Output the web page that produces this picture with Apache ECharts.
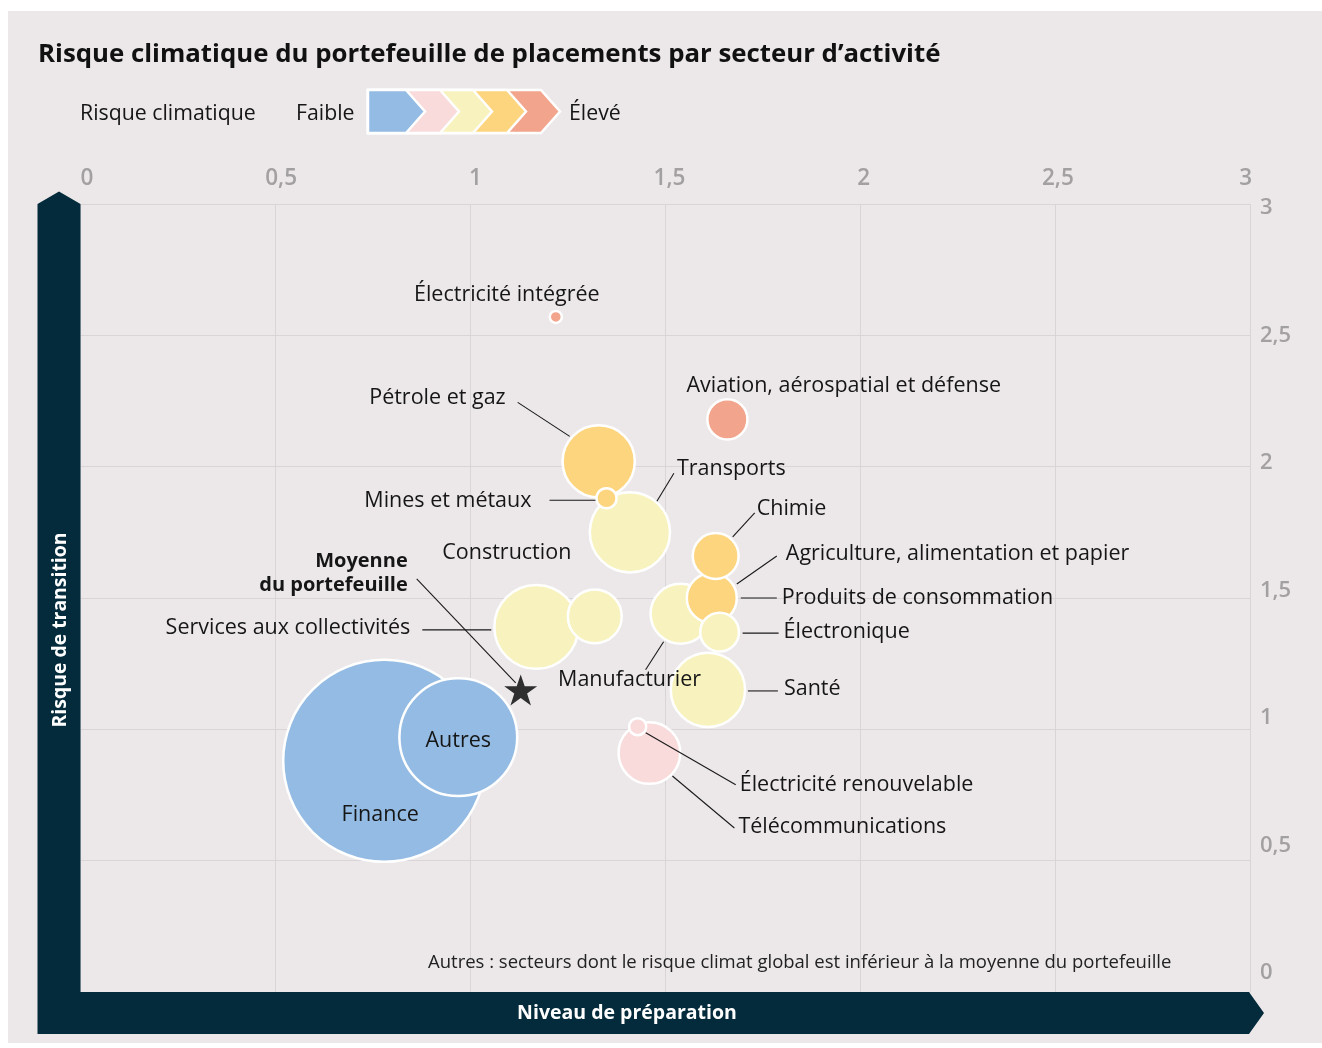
<!DOCTYPE html>
<html><head><meta charset="utf-8">
<script src="https://cdn.jsdelivr.net/npm/echarts@6/dist/echarts.min.js"></script>
<style>html,body{margin:0;padding:0;background:#fff;} #c{width:1322px;height:1048px;}</style>
</head><body><div id="c"></div>
<script>
// ---------- DATA ----------
const secteurs = ['Finance','Autres','Services aux collectivités','Construction','Pétrole et gaz','Transports','Mines et métaux','Manufacturier','Agriculture, alimentation et papier','Produits de consommation','Chimie','Électronique','Santé','Télécommunications','Électricité renouvelable','Aviation, aérospatial et défense','Électricité intégrée'];
const preparation = [0.78,0.97,1.17,1.32,1.33,1.41,1.35,1.54,1.62,1.62,1.63,1.64,1.61,1.46,1.43,1.66,1.22];
const transition  = [0.88,0.97,1.39,1.43,2.02,1.75,1.88,1.44,1.50,1.50,1.66,1.37,1.15,0.91,1.01,2.18,2.57];
const poids       = [40.0,13.8,7.1,3.0,5.3,6.5,0.47,3.7,2.4,2.6,2.2,1.6,5.6,3.9,0.35,1.7,0.19];
const risque      = [1,1,3,3,4,3,4,3,4,4,4,3,3,2,2,5,5];
const moyenne     = [1.13, 1.15];
const moyenneLabel = 'Moyenne\ndu portefeuille';
const axisTicks   = [0,0.5,1,1.5,2,2.5,3];
const niveauxRisque = ['Faible','Élevé'];

// ---------- STYLE / LAYOUT ----------
const FONT = "'Open Sans', sans-serif";
const palette = {1:'#93BBE3',2:'#F9DBDC',3:'#F8F3BE',4:'#FDD57E',5:'#F2A48C'};
const DARK = '#032B3B';
const placement = {
  'Finance': {dx:-4, dy:54, align:'center'},
  'Autres': {dx:0, dy:4, align:'center'},
  'Services aux collectivités': {dx:-126, dy:1, align:'right', line:[-114,3,-45,3]},
  'Construction': {dx:-88, dy:-64, align:'center'},
  'Pétrole et gaz': {dx:-93, dy:-64, align:'right', line:[-81,-59,-29,-25]},
  'Transports': {dx:47, dy:-63, align:'left', line:[44,-59,27,-31]},
  'Mines et métaux': {dx:-75, dy:3, align:'right', line:[-57,2,-11,2]},
  'Manufacturier': {dx:-51, dy:66, align:'center', line:[-35,56,-17,28]},
  'Agriculture, alimentation et papier': {dx:74, dy:-44, align:'left', line:[65,-42,25,-14]},
  'Produits de consommation': {dx:70, dy:0, align:'left', line:[29,0,65,0]},
  'Chimie': {dx:41, dy:-47, align:'left', line:[39,-43,17,-19]},
  'Électronique': {dx:64, dy:0, align:'left', line:[23,1,59,1]},
  'Santé': {dx:76, dy:-1, align:'left', line:[40,1,70,1]},
  'Télécommunications': {dx:89, dy:74, align:'left', line:[23,23,85,75]},
  'Électricité renouvelable': {dx:102, dy:58, align:'left', line:[8,6,98,58]},
  'Aviation, aérospatial et défense': {dx:-41, dy:-34, align:'left'},
  'Électricité intégrée': {dx:-49, dy:-22, align:'center'},
  '__moyenne': {dx:-113, dy:-117, align:'right', bold:true, line:[-104,-111,-5,-7]}
};
const fmt = v => String(v).replace('.', ',');

const bubbleData = secteurs.map((s,i)=>({name:s, value:[preparation[i], transition[i], poids[i], risque[i]]}));
const annotData = secteurs.map((s,i)=>[preparation[i], transition[i], i]).concat([[moyenne[0], moyenne[1], -1]]);

function renderAnnot(params, api){
  const idx = api.value(2);
  const p = api.coord([api.value(0), api.value(1)]);
  const key = idx < 0 ? '__moyenne' : secteurs[idx];
  const text = idx < 0 ? moyenneLabel : secteurs[idx];
  const pl = placement[key];
  const children = [];
  if (pl.line){
    children.push({type:'line', shape:{x1:p[0]+pl.line[0], y1:p[1]+pl.line[1], x2:p[0]+pl.line[2], y2:p[1]+pl.line[3]},
      style:{stroke:'#1a1a1a', lineWidth:1.1}});
  }
  children.push({type:'text', x:p[0]+pl.dx, y:p[1]+pl.dy, style:{text:text, fill:'#161616',
    font:pl.bold ? ('700 20px '+FONT) : ('400 21.5px '+FONT), align:pl.align, verticalAlign:'middle', lineHeight:24}});
  return {type:'group', children:children};
}

// legend chevrons (decoration)
const chevrons = [];
const tips = [425,459,492,526,560];
for (let i=4;i>=0;i--){
  chevrons.push({type:'polygon', z:20, shape:{points:[[368,90],[tips[i]-19,90],[tips[i],111.5],[tips[i]-19,133],[368,133]]},
    style:{fill:palette[i+1], stroke:'#fff', lineWidth:2.5}});
}

const chart = echarts.init(document.getElementById('c'), null, {renderer:'canvas'});
chart.setOption({
  backgroundColor:'#ECE8E9',
  animation:false,
  title:{text:'Risque climatique du portefeuille de placements par secteur d’activité', left:38, top:42, padding:0,
    textStyle:{fontFamily:FONT, fontWeight:700, fontSize:25.8, color:'#111'}},
  grid:[
    {left:80, top:204, width:1170, height:788},
    {left:87, top:198, width:1165, height:700},
    {left:80, top:208, width:1170, height:765}
  ],
  xAxis:[
    {gridIndex:0, type:'value', min:0, max:3, interval:0.5, axisLine:{show:false}, axisTick:{show:false}, axisLabel:{show:false},
      splitLine:{show:true, lineStyle:{color:'#D9D5D6', width:1}}},
    {gridIndex:1, type:'value', position:'top', min:0, max:3, interval:0.5, axisLine:{show:false}, axisTick:{show:false}, splitLine:{show:false},
      axisLabel:{show:true, margin:8, formatter:fmt, color:'#A3A0A1', fontFamily:FONT, fontWeight:600, fontSize:22.5, alignMaxLabel:'right'}},
    {gridIndex:2, type:'value', show:false, min:0, max:3}
  ],
  yAxis:[
    {gridIndex:0, type:'value', min:0, max:3, interval:0.5, axisLine:{show:false}, axisTick:{show:false}, axisLabel:{show:false},
      splitLine:{show:true, lineStyle:{color:'#D9D5D6', width:1}}},
    {gridIndex:1, type:'value', show:false, min:0, max:3},
    {gridIndex:2, type:'value', position:'right', min:0, max:3, interval:0.5, axisLine:{show:false}, axisTick:{show:false}, splitLine:{show:false},
      axisLabel:{show:true, margin:10, formatter:fmt, color:'#A3A0A1', fontFamily:FONT, fontWeight:600, fontSize:22}}
  ],
  series:[
    {type:'scatter', xAxisIndex:0, yAxisIndex:0, data:bubbleData, silent:true,
      symbolSize: v => 32.25*Math.sqrt(v[2]) - 2,
      itemStyle:{color: p => palette[p.value[3]], borderColor:'#fff', borderWidth:2.5, opacity:1}, z:2},
    {type:'scatter', xAxisIndex:0, yAxisIndex:0, data:[moyenne], silent:true, z:3,
      symbol:'path://M50,0 L61.8,35.1 L98.5,35.1 L68.8,56.8 L80.2,91.9 L50,70.2 L19.8,91.9 L31.2,56.8 L1.5,35.1 L38.2,35.1 Z',
      symbolSize:[33,31], itemStyle:{color:'#000'}},
    {type:'custom', xAxisIndex:0, yAxisIndex:0, data:annotData, renderItem:renderAnnot, silent:true, clip:false, z:5,
      encode:{x:0, y:1}}
  ],
  graphic:[
    {type:'rect', z:50, shape:{x:0,y:0,width:8,height:1048}, style:{fill:'#fff'}},
    {type:'rect', z:50, shape:{x:0,y:0,width:1322,height:11}, style:{fill:'#fff'}},
    {type:'rect', z:50, shape:{x:0,y:1043,width:1322,height:5}, style:{fill:'#fff'}},
    {type:'polygon', z:20, shape:{points:[[37.5,204],[59,191.5],[80.5,204],[80.5,992],[1249,992],[1264,1013],[1249,1034],[37.5,1034]]},
      style:{fill:DARK}},
    {type:'text', z:21, x:60, y:630, rotation:Math.PI/2, style:{text:'Risque de transition', fill:'#fff', font:'700 19.4px '+FONT, align:'center', verticalAlign:'middle'}},
    {type:'text', z:21, x:627, y:1013, style:{text:'Niveau de préparation', fill:'#fff', font:'700 19.5px '+FONT, align:'center', verticalAlign:'middle'}},
    {type:'text', z:21, x:80, y:113.5, style:{text:'Risque climatique', fill:'#161616', font:'400 21.3px '+FONT, align:'left', verticalAlign:'middle'}},
    {type:'text', z:21, x:296, y:113.5, style:{text:niveauxRisque[0], fill:'#161616', font:'400 21.3px '+FONT, align:'left', verticalAlign:'middle'}},
    {type:'text', z:21, x:569, y:113.5, style:{text:niveauxRisque[1], fill:'#161616', font:'400 21.3px '+FONT, align:'left', verticalAlign:'middle'}},
    {type:'text', z:21, x:428, y:963, style:{text:'Autres : secteurs dont le risque climat global est inférieur à la moyenne du portefeuille', fill:'#222', font:'400 18.5px '+FONT, align:'left', verticalAlign:'middle'}}
  ].concat(chevrons)
});
</script></body></html>
